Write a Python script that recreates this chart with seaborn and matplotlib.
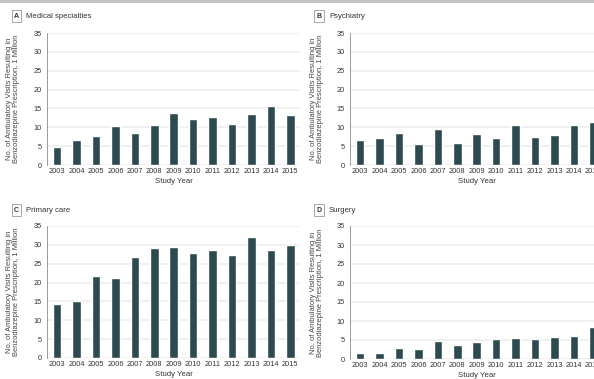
import matplotlib
matplotlib.use("Agg")
import matplotlib.pyplot as plt
import pandas as pd
import seaborn as sns
from matplotlib.lines import Line2D
from matplotlib.ticker import MultipleLocator

# values, in millions of visits
years = [str(y) for y in range(2003, 2016)]
medical = [4.9, 6.6, 7.7, 10.4, 8.4, 10.6, 13.7, 12.2, 12.7, 10.8, 13.5, 15.7, 13.3]
psychiatry = [6.7, 7.1, 8.4, 5.6, 9.5, 5.9, 8.1, 7.1, 10.6, 7.4, 7.9, 10.6, 11.4]
primary = [14.4, 15.2, 21.7, 21.1, 26.9, 29.2, 29.5, 27.9, 28.6, 27.4, 32.2, 28.7, 29.9]
surgery = [1.6, 1.6, 3.0, 2.6, 4.8, 3.8, 4.4, 5.3, 5.6, 5.3, 5.8, 6.1, 8.4]

panel_letters = ["A", "B", "C", "D"]
panel_titles = ["Medical specialties", "Psychiatry", "Primary care", "Surgery"]
panel_values = [medical, psychiatry, primary, surgery]

ylabel = "No. of Ambulatory Visits Resulting in\nBenzodiazepine Prescription, 1 Million"
BAR = "#2d4a50"

sns.set_style("white")
plt.rcParams['font.family'] = ['Liberation Sans', 'DejaVu Sans']

W, H = 594, 379
fig = plt.figure(figsize=(W / 100, H / 100), dpi=100)

def px(x, y):
    return x / W, 1 - y / H

# axes rectangles in pixel space: left, top(35), bottom(0)
rects = [(47, 33, 165), (350, 33, 165), (47, 226, 358), (350, 226, 359)]
label_pos = [(16.5, 16), (319, 16), (16.5, 210), (319, 210)]
ylabel_x = [20, 324, 20, 324]
axw = 253

fig.add_artist(Line2D([0, 1], [1 - 1.2 / H] * 2, color="#c4c4c4", lw=2.2,
                      transform=fig.transFigure))

for i in range(4):
    left, top, bottom = rects[i]
    ax = fig.add_axes([left / W, (H - bottom) / H, axw / W, (bottom - top) / H])
    df = pd.DataFrame({"year": years, "visits": panel_values[i]})
    sns.barplot(data=df, x="year", y="visits", color=BAR, saturation=1,
                width=0.44, ax=ax, zorder=3)
    ax.set_xlim(-0.52, 12.5)
    ax.set_ylim(0, 35)
    ax.yaxis.set_major_locator(MultipleLocator(5))
    ax.grid(axis="y", color="#ececec", lw=1.1, zorder=0)
    ax.set_axisbelow(True)
    for s in ["top", "right", "bottom"]:
        ax.spines[s].set_visible(False)
    ax.spines["left"].set_color("#8a8a8a")
    ax.spines["left"].set_linewidth(0.6)
    ax.tick_params(axis="y", length=2, width=0.5, color="#8a8a8a", pad=2,
                   labelsize=5.3, labelcolor="#333333")
    ax.tick_params(axis="x", length=0, pad=2.5, labelsize=5.3, labelcolor="#333333")
    ax.set_xlabel("Study Year", fontsize=5.6, color="#333333", labelpad=2)
    ax.set_ylabel(ylabel, fontsize=5.4, color="#444444", linespacing=1.0)
    ax.yaxis.set_label_coords((ylabel_x[i] - left) / axw, 0.5)

    lx, ly = label_pos[i]
    fx, fy = px(lx, ly)
    fig.text(fx, fy, panel_letters[i], fontsize=5, fontweight="bold", color="#333333",
             ha="center", va="center",
             bbox=dict(boxstyle="square,pad=0.35", fc="white", ec="#999999", lw=0.6))
    fx2, _ = px(lx + 10, ly)
    fig.text(fx2, fy, panel_titles[i], fontsize=5.6, color="#333333", ha="left", va="center")

fig.savefig("out.png", dpi=100)
